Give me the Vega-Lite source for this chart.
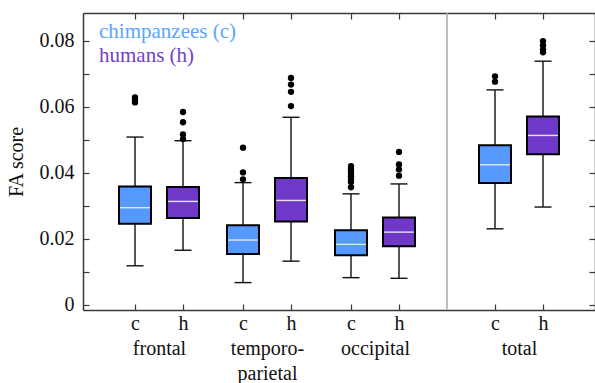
{
  "$schema": "https://vega.github.io/schema/vega-lite/v6.json",
  "width": 512,
  "height": 297,
  "autosize": {"type": "none"},
  "padding": {"left": 83, "top": 13, "right": 0, "bottom": 73},
  "background": "white",
  "config": {
    "view": {"stroke": null},
    "font": "Liberation Serif",
    "axis": {"grid": false, "labelFont": "Liberation Serif", "titleFont": "Liberation Serif", "labelColor": "#111", "titleColor": "#111", "domainColor": "#3a3a3a", "domainWidth": 1.5, "tickColor": "#3a3a3a", "tickWidth": 1.2}
  },
  "datasets": {
    "boxes": [
      {"key": "frontal c", "region": "frontal", "species": "c", "lower": 0.0118, "q1": 0.0245, "median": 0.0294, "q3": 0.0358, "upper": 0.0508},
      {"key": "frontal h", "region": "frontal", "species": "h", "lower": 0.0165, "q1": 0.0263, "median": 0.0313, "q3": 0.0357, "upper": 0.0497},
      {"key": "temporo c", "region": "temporo-parietal", "species": "c", "lower": 0.0067, "q1": 0.0154, "median": 0.0196, "q3": 0.0241, "upper": 0.0370},
      {"key": "temporo h", "region": "temporo-parietal", "species": "h", "lower": 0.0132, "q1": 0.0252, "median": 0.0316, "q3": 0.0384, "upper": 0.0568},
      {"key": "occipital c", "region": "occipital", "species": "c", "lower": 0.0082, "q1": 0.0150, "median": 0.0183, "q3": 0.0226, "upper": 0.0336},
      {"key": "occipital h", "region": "occipital", "species": "h", "lower": 0.0080, "q1": 0.0177, "median": 0.0220, "q3": 0.0264, "upper": 0.0366},
      {"key": "total c", "region": "total", "species": "c", "lower": 0.0230, "q1": 0.0369, "median": 0.0424, "q3": 0.0483, "upper": 0.0651},
      {"key": "total h", "region": "total", "species": "h", "lower": 0.0296, "q1": 0.0456, "median": 0.0513, "q3": 0.0570, "upper": 0.0738}
    ],
    "outliers": [
      {"key": "frontal c", "value": 0.0628}, {"key": "frontal c", "value": 0.0621}, {"key": "frontal c", "value": 0.0613},
      {"key": "frontal h", "value": 0.0584}, {"key": "frontal h", "value": 0.0553}, {"key": "frontal h", "value": 0.0516}, {"key": "frontal h", "value": 0.0502},
      {"key": "temporo c", "value": 0.0476}, {"key": "temporo c", "value": 0.0401}, {"key": "temporo c", "value": 0.0380},
      {"key": "temporo h", "value": 0.0687}, {"key": "temporo h", "value": 0.0667}, {"key": "temporo h", "value": 0.0645}, {"key": "temporo h", "value": 0.0602},
      {"key": "occipital c", "value": 0.0420}, {"key": "occipital c", "value": 0.0413}, {"key": "occipital c", "value": 0.0405}, {"key": "occipital c", "value": 0.0397}, {"key": "occipital c", "value": 0.0389}, {"key": "occipital c", "value": 0.0381}, {"key": "occipital c", "value": 0.0372}, {"key": "occipital c", "value": 0.0356},
      {"key": "occipital h", "value": 0.0463}, {"key": "occipital h", "value": 0.0425}, {"key": "occipital h", "value": 0.0410}, {"key": "occipital h", "value": 0.0391},
      {"key": "total c", "value": 0.0692}, {"key": "total c", "value": 0.0676},
      {"key": "total h", "value": 0.0799}, {"key": "total h", "value": 0.0786}, {"key": "total h", "value": 0.0774}, {"key": "total h", "value": 0.0765}
    ]
  },
  "encoding": {
    "x": {
      "field": "key", "type": "nominal",
      "scale": {"type": "point", "padding": 0.3333, "domain": ["l1", "l2", "l3", "l4", "frontal c", "s1", "frontal", "s3", "frontal h", "s5", "s6", "s7", "s8", "temporo c", "s10", "temporo", "s12", "temporo h", "s14", "s15", "s16", "s17", "occipital c", "s19", "occipital", "s21", "occipital h", "s23", "s24", "s25", "sep", "s27", "s28", "s29", "total c", "s31", "total", "s33", "total h", "r1", "r2", "r3", "r4"]},
      "axis": null
    }
  },
  "layer": [
    {
      "data": {"name": "boxes"},
      "mark": {"type": "rule", "color": "#111", "strokeWidth": 1.4},
      "encoding": {
        "x": {
          "field": "key", "type": "nominal",
          "scale": {"type": "point", "padding": 0.3333, "domain": ["l1", "l2", "l3", "l4", "frontal c", "s1", "frontal", "s3", "frontal h", "s5", "s6", "s7", "s8", "temporo c", "s10", "temporo", "s12", "temporo h", "s14", "s15", "s16", "s17", "occipital c", "s19", "occipital", "s21", "occipital h", "s23", "s24", "s25", "sep", "s27", "s28", "s29", "total c", "s31", "total", "s33", "total h", "r1", "r2", "r3", "r4"]},
          "axis": {
            "orient": "bottom", "title": null,
            "values": ["frontal c", "frontal h", "frontal", "temporo c", "temporo h", "temporo", "occipital c", "occipital h", "occipital", "total c", "total h", "total"],
            "labelExpr": "indexof(datum.value, ' c') > 0 ? 'c' : indexof(datum.value, ' h') > 0 ? 'h' : datum.value == 'temporo' ? ['', 'temporo-', 'parietal'] : ['', datum.value]",
            "labelAngle": 0, "labelFontSize": 20, "labelLineHeight": 25, "labelPadding": 9, "labelOverlap": false, "labelBound": false, "labelFlush": false,
            "tickSize": -6,
            "tickOpacity": {"condition": {"test": "indexof(datum.value, ' ') > 0", "value": 1}, "value": 0}
          }
        },
        "y": {
          "field": "lower", "type": "quantitative",
          "scale": {"domain": [-0.0016, 0.0884], "nice": false, "zero": false},
          "axis": {
            "orient": "left", "title": "FA score", "titleFontSize": 20, "titleFontWeight": "normal", "titlePadding": 13,
            "values": [0, 0.01, 0.02, 0.03, 0.04, 0.05, 0.06, 0.07, 0.08],
            "labelExpr": "round(datum.value * 100) % 2 == 0 ? (datum.value == 0 ? '0' : format(datum.value, '.2f')) : ''",
            "labelFontSize": 20, "labelPadding": 15, "tickSize": -6
          }
        },
        "y2": {"field": "upper"}
      }
    },
    {
      "data": {"name": "boxes"},
      "mark": {"type": "tick", "color": "#111", "size": 17, "thickness": 1.4, "opacity": 1},
      "encoding": {
        "x": {
          "field": "key", "type": "nominal",
          "scale": {"type": "point", "padding": 0.3333, "domain": ["l1", "l2", "l3", "l4", "frontal c", "s1", "frontal", "s3", "frontal h", "s5", "s6", "s7", "s8", "temporo c", "s10", "temporo", "s12", "temporo h", "s14", "s15", "s16", "s17", "occipital c", "s19", "occipital", "s21", "occipital h", "s23", "s24", "s25", "sep", "s27", "s28", "s29", "total c", "s31", "total", "s33", "total h", "r1", "r2", "r3", "r4"]},
          "axis": {"orient": "top", "title": null, "labels": false, "tickSize": -6, "values": ["frontal c", "frontal h", "temporo c", "temporo h", "occipital c", "occipital h", "total c", "total h"]}
        },
        "y": {
          "field": "lower", "type": "quantitative",
          "scale": {"domain": [-0.0016, 0.0884], "nice": false, "zero": false},
          "axis": {"orient": "right", "title": null, "labels": false, "tickSize": -6, "values": [0, 0.01, 0.02, 0.03, 0.04, 0.05, 0.06, 0.07, 0.08]}
        }
      }
    },
    {
      "data": {"name": "boxes"},
      "mark": {"type": "tick", "color": "#111", "size": 17, "thickness": 1.4, "opacity": 1},
      "encoding": {
        "y": {"field": "upper", "type": "quantitative", "scale": {"domain": [-0.0016, 0.0884], "nice": false, "zero": false}, "axis": null}
      }
    },
    {
      "data": {"name": "boxes"},
      "mark": {"type": "bar", "width": 32, "stroke": "#000", "strokeWidth": 2, "opacity": 1},
      "encoding": {
        "y": {"field": "q1", "type": "quantitative", "scale": {"domain": [-0.0016, 0.0884], "nice": false, "zero": false}, "axis": null},
        "y2": {"field": "q3"},
        "color": {
          "field": "species", "type": "nominal",
          "scale": {"domain": ["c", "h"], "range": ["#5599ff", "#7038c8"]},
          "legend": {
            "orient": "none", "legendX": -5, "legendY": 8, "title": null,
            "labelExpr": "datum.label == 'c' ? 'chimpanzees (c)' : 'humans (h)'",
            "labelFont": "Liberation Serif", "labelFontSize": 21, "labelOffset": 0, "labelLimit": 300,
            "labelColor": {"expr": "datum.value == 'c' ? '#5ea4ff' : '#7340cc'"},
            "symbolSize": 0, "symbolOpacity": 0, "symbolStrokeWidth": 0, "rowPadding": 2, "padding": 0
          }
        }
      }
    },
    {
      "data": {"name": "boxes"},
      "mark": {"type": "tick", "color": "#e4e4ee", "size": 30, "thickness": 1.4, "opacity": 1},
      "encoding": {
        "y": {"field": "median", "type": "quantitative", "scale": {"domain": [-0.0016, 0.0884], "nice": false, "zero": false}, "axis": null}
      }
    },
    {
      "data": {"name": "outliers"},
      "mark": {"type": "circle", "color": "#000", "size": 40, "opacity": 1},
      "encoding": {
        "y": {"field": "value", "type": "quantitative", "scale": {"domain": [-0.0016, 0.0884], "nice": false, "zero": false}, "axis": null}
      }
    },
    {
      "data": {"values": [{}]},
      "mark": {"type": "rule", "color": "#aaaaaa", "strokeWidth": 1.5},
      "encoding": {"x": {"datum": "sep", "type": "nominal", "axis": null}}
    }
  ]
}
